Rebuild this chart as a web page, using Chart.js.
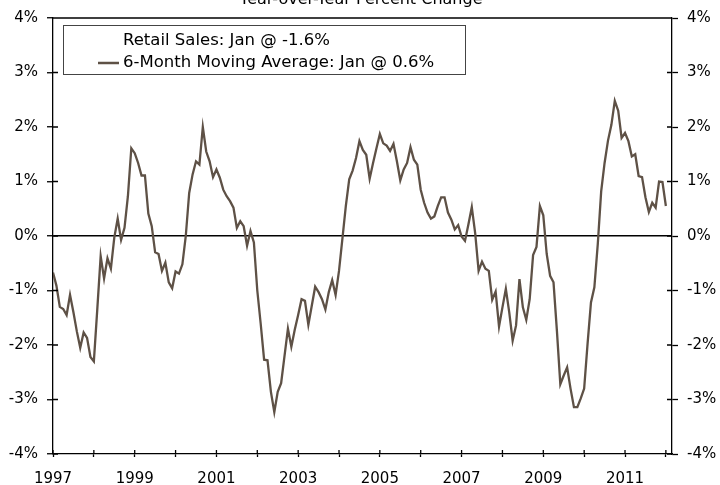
<!DOCTYPE html>
<html>
<head>
<meta charset="utf-8">
<title>Retail Sales</title>
<script src="https://cdn.jsdelivr.net/npm/chart.js@4/dist/chart.umd.min.js"></script>
<style>
    body { margin: 0; background: #fff; }
    #wrap { width: 720px; height: 485px; }
</style>
</head>
<body>
<div id="wrap"><canvas id="retailChart" width="720" height="485"></canvas></div>
<script>
// chart data
var chartTitle = "Year-over-Year Percent Change";
var seriesNames = ["Retail Sales: Jan @ -1.6%", "6-Month Moving Average: Jan @ 0.6%"];
var startYear = 1997; // first monthly value is Jan 1997
var yearTicks = [1997, 1998, 1999, 2000, 2001, 2002, 2003, 2004, 2005, 2006, 2007, 2008, 2009, 2010, 2011, 2012];
var yearLabels = ["1997", "1999", "2001", "2003", "2005", "2007", "2009", "2011"];
var pctTicks = [-4, -3, -2, -1, 0, 1, 2, 3, 4];

// 6-month moving average, monthly, Jan 1997 - Jan 2012
var movingAvg = [
    -0.67, -0.91, -1.30, -1.34, -1.45, -1.08, -1.40, -1.75, -2.05, -1.77, -1.87, -2.22,
    -2.30, -1.35, -0.37, -0.78, -0.41, -0.60, -0.03, 0.32, -0.07, 0.15, 0.73, 1.61,
    1.52, 1.34, 1.11, 1.11, 0.41, 0.18, -0.30, -0.33, -0.64, -0.49, -0.85, -0.96,
    -0.65, -0.69, -0.52, 0.00, 0.79, 1.13, 1.37, 1.31, 2.00, 1.55, 1.37, 1.08,
    1.22, 1.07, 0.85, 0.73, 0.64, 0.52, 0.15, 0.27, 0.18, -0.18, 0.09, -0.12,
    -1.00, -1.61, -2.27, -2.28, -2.86, -3.23, -2.86, -2.70, -2.20, -1.70, -2.03, -1.72,
    -1.45, -1.16, -1.19, -1.63, -1.28, -0.93, -1.03, -1.16, -1.35, -1.03, -0.81, -1.08,
    -0.64, -0.05, 0.55, 1.04, 1.20, 1.43, 1.74, 1.58, 1.49, 1.05, 1.34, 1.61,
    1.87, 1.70, 1.66, 1.56, 1.69, 1.37, 1.02, 1.22, 1.34, 1.63, 1.40, 1.31,
    0.85, 0.61, 0.43, 0.32, 0.36, 0.55, 0.71, 0.71, 0.43, 0.30, 0.12, 0.20,
    -0.01, -0.09, 0.21, 0.53, 0.05, -0.64, -0.47, -0.60, -0.64, -1.17, -1.02, -1.66,
    -1.31, -0.97, -1.40, -1.92, -1.64, -0.79, -1.31, -1.54, -1.16, -0.35, -0.20, 0.55,
    0.38, -0.33, -0.73, -0.85, -1.74, -2.72, -2.56, -2.41, -2.80, -3.14, -3.14, -2.98,
    -2.80, -1.98, -1.22, -0.94, -0.15, 0.82, 1.34, 1.75, 2.04, 2.48, 2.30, 1.80,
    1.89, 1.74, 1.46, 1.50, 1.10, 1.08, 0.71, 0.44, 0.61, 0.52, 1.00, 0.99,
    0.55
];

var lineColor = "#5e5146";
var fontName = "'DejaVu Sans', Verdana, sans-serif";

function monthPoints(values) {
    var pts = [];
    for (var i = 0; i < values.length; i++) {
        pts.push({ x: startYear + i / 12, y: values[i] });
    }
    return pts;
}

function setTicks(list) {
    return function(scale) {
        scale.ticks = list.map(function(v) { return { value: v }; });
    };
}

// frame, inside tick marks, title and legend box
var decorPlugin = {
    id: 'decor',
    afterDraw: function(chart) {
        var ctx = chart.ctx;
        var a = chart.chartArea;
        ctx.save();
        ctx.strokeStyle = "#000";
        ctx.lineWidth = 1.3;
        ctx.beginPath();
        ctx.moveTo(a.left, a.top);
        ctx.lineTo(a.right, a.top);
        // ticks pointing into the plot
        var y = chart.scales.y;
        pctTicks.forEach(function(v) {
            var py = y.getPixelForValue(v);
            ctx.moveTo(a.left, py); ctx.lineTo(a.left + 5, py);
            ctx.moveTo(a.right, py); ctx.lineTo(a.right - 5, py);
        });
        var x = chart.scales.x;
        yearTicks.forEach(function(v) {
            var px = x.getPixelForValue(v);
            ctx.moveTo(px, a.bottom); ctx.lineTo(px, a.bottom - 4);
        });
        ctx.stroke();

        // title (partly cut off at the top)
        ctx.fillStyle = "#000";
        ctx.font = "16px " + fontName;
        ctx.textAlign = "center";
        ctx.textBaseline = "alphabetic";
        ctx.fillText(chartTitle, 361, 4);

        // legend
        ctx.strokeStyle = "#444";
        ctx.lineWidth = 1;
        ctx.strokeRect(63.5, 25.5, 402, 49);
        ctx.textAlign = "left";
        ctx.textBaseline = "middle";
        ctx.font = "16.5px " + fontName;
        ctx.fillText(seriesNames[0], 123, 41);
        ctx.fillText(seriesNames[1], 123, 63);
        ctx.strokeStyle = lineColor;
        ctx.lineWidth = 2.5;
        ctx.beginPath();
        ctx.moveTo(98, 63); ctx.lineTo(119, 63);
        ctx.stroke();
        ctx.restore();
    }
};

var ctx = document.getElementById('retailChart');
var retailChart = new Chart(ctx, {
    type: 'line',
    data: {
        datasets: [{
            label: seriesNames[1],
            data: monthPoints(movingAvg),
            borderColor: lineColor,
            borderWidth: 2.3,
            pointRadius: 0,
            tension: 0,
            fill: false,
            yAxisID: 'y'
        }]
    },
    options: {
        responsive: false,
        animation: false,
        layout: { padding: { top: 16, left: 0, right: 0, bottom: 0 } },
        plugins: {
            legend: { display: false },
            title: { display: false },
            tooltip: { enabled: false }
        },
        scales: {
            x: {
                type: 'linear',
                min: 1997,
                max: 2012.15,
                afterBuildTicks: setTicks(yearTicks),
                afterFit: function(scale) { scale.height = 31; },
                border: { display: true, color: "#000", width: 1.3 },
                grid: { drawOnChartArea: false, tickLength: 3, tickColor: "#000", tickWidth: 1.3 },
                ticks: {
                    autoSkip: false,
                    maxRotation: 0,
                    padding: 13,
                    color: "#000",
                    font: { family: fontName, size: 15 },
                    callback: function(v) {
                        var s = String(Math.round(v));
                        return yearLabels.indexOf(s) >= 0 ? s : "";
                    }
                }
            },
            y: {
                position: 'left',
                min: -4,
                max: 4,
                afterBuildTicks: setTicks(pctTicks),
                afterFit: function(scale) { scale.width = 53; },
                border: { display: true, color: "#000", width: 1.3 },
                grid: {
                    lineWidth: 1.5,
                    color: function(c) { return c.tick && c.tick.value === 0 ? "#000" : "rgba(0,0,0,0)"; },
                    tickLength: 6,
                    tickColor: "#000",
                    tickWidth: 1.3
                },
                ticks: {
                    padding: 9,
                    color: "#000",
                    font: { family: fontName, size: 15 },
                    callback: function(v) { return v + "%"; }
                }
            },
            y2: {
                position: 'right',
                min: -4,
                max: 4,
                afterBuildTicks: setTicks(pctTicks),
                afterFit: function(scale) { scale.width = 48; },
                border: { display: true, color: "#000", width: 1.3 },
                grid: { drawOnChartArea: false, tickLength: 6, tickColor: "#000", tickWidth: 1.3 },
                ticks: {
                    padding: 9,
                    color: "#000",
                    font: { family: fontName, size: 15 },
                    callback: function(v) { return v + "%"; }
                }
            }
        }
    },
    plugins: [decorPlugin]
});
</script>
</body>
</html>
